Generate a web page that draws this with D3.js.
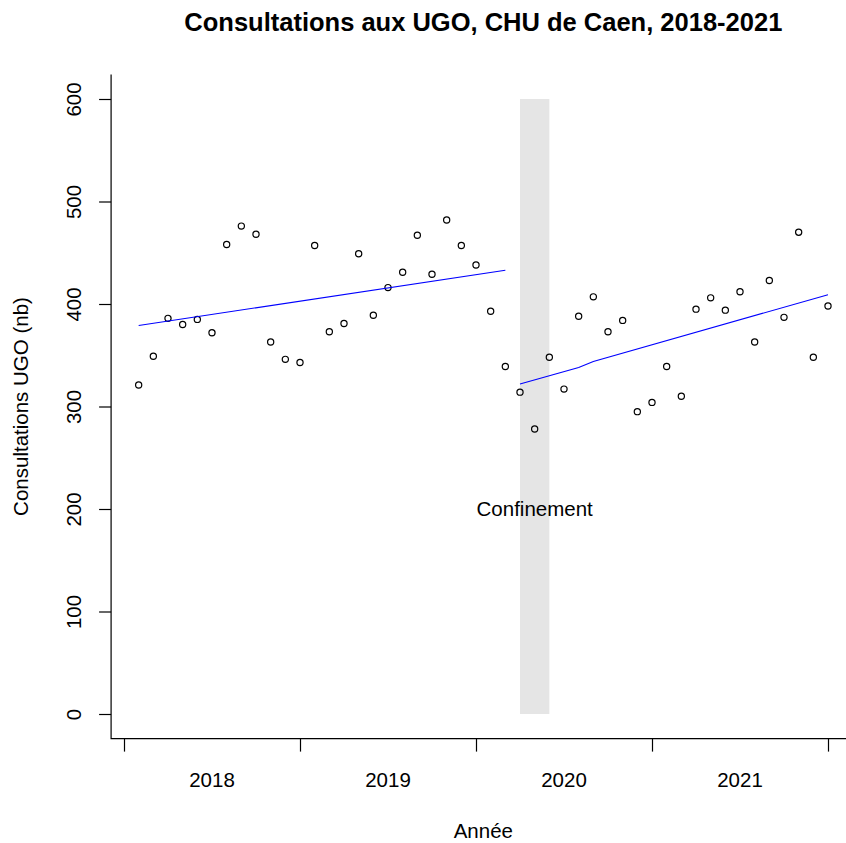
<!DOCTYPE html>
<html>
<head>
<meta charset="utf-8">
<script src="https://cdn.jsdelivr.net/npm/d3@7"></script>
<style>
  body { margin: 0; background: #fff; }
  svg { display: block; font-family: "Liberation Sans", Arial, sans-serif; }
</style>
</head>
<body>
<div id="chart"></div>
<script>
// Consultations aux UGO, CHU de Caen - monthly counts, Jan 2018 -> Dec 2021

// month index 1..48 (1 = jan 2018)
var months = d3.range(1, 49);
var consultations = [
  321, 349, 386, 380, 385, 372, 458, 476, 468, 363, 346, 343,
  457, 373, 381, 449, 389, 416, 431, 467, 429, 482, 457, 438,
  393, 339, 314, 278, 348, 317, 388, 407, 373, 384, 295, 304,
  339, 310, 395, 406, 394, 412, 363, 423, 387, 470, 348, 398
];

// fitted trend (blue lines)
var trendBefore = [ {month: 1, value: 379}, {month: 26, value: 433} ];
var trendAfter  = [ {month: 27, value: 322}, {month: 31, value: 338},
                    {month: 32, value: 344}, {month: 48, value: 409} ];

// lockdown band
var lockdown = {from: 27, to: 29, label: "Confinement", labelMonth: 28, labelValue: 200};

var yearTicks = [0, 12, 24, 36, 48];
var yearLabels = ["2018", "2019", "2020", "2021"];
var yearLabelPos = [6, 18, 30, 42];
var yTicks = [0, 100, 200, 300, 400, 500, 600];

var width = 846, height = 843;

// scales (R style 4% padding around the data range)
var x = d3.scaleLinear().domain([0, 48]).range([124, 828]);
var y = d3.scaleLinear().domain([0, 600]).range([714, 99]);
var xPad = (48 - 1) * 0.04, yPad = 600 * 0.04;
var plotLeft = x(1 - xPad), plotRight = x(48 + xPad);
var plotTop = y(600 + yPad), plotBottom = y(-yPad);

var svg = d3.select("#chart").append("svg")
    .attr("width", width)
    .attr("height", height);

// grey lockdown band
svg.append("rect")
    .attr("x", x(lockdown.from))
    .attr("y", y(600))
    .attr("width", x(lockdown.to) - x(lockdown.from))
    .attr("height", y(0) - y(600))
    .attr("fill", "#e5e5e5");

svg.append("text")
    .attr("x", x(lockdown.labelMonth))
    .attr("y", y(lockdown.labelValue) + 7)
    .attr("text-anchor", "middle")
    .attr("font-size", 20.5)
    .attr("fill", "#000")
    .text(lockdown.label);

// points
svg.append("g").selectAll("circle")
    .data(consultations)
    .join("circle")
    .attr("cx", function(d, i){ return x(months[i]); })
    .attr("cy", function(d){ return y(d); })
    .attr("r", 3.1)
    .attr("fill", "none")
    .attr("stroke", "#000")
    .attr("stroke-width", 1.2);

// trend lines
var line = d3.line()
    .x(function(d){ return x(d.month); })
    .y(function(d){ return y(d.value); });

[trendBefore, trendAfter].forEach(function(t){
  svg.append("path")
      .attr("d", line(t))
      .attr("fill", "none")
      .attr("stroke", "#0000ff")
      .attr("stroke-width", 1.1);
});

// L shaped box
svg.append("path")
    .attr("d", "M" + plotLeft + "," + plotTop + "V" + plotBottom + "H" + plotRight)
    .attr("fill", "none")
    .attr("stroke", "#000")
    .attr("stroke-width", 1.2);

// y axis
var yAxis = d3.axisLeft(y).tickValues(yTicks).tickSize(12).tickPadding(18).tickSizeOuter(0);
var gy = svg.append("g").attr("transform", "translate(" + plotLeft + ",0)").call(yAxis);
gy.select(".domain").remove();
gy.selectAll("line").attr("stroke", "#000").attr("stroke-width", 1.2);
gy.selectAll("text")
    .attr("font-size", 20.5)
    .attr("font-family", "Liberation Sans, Arial, sans-serif")
    .attr("fill", "#000")
    .attr("x", null).attr("dy", null)
    .attr("text-anchor", "middle")
    .attr("transform", "translate(-30,0) rotate(-90)");

// x axis: ticks at year bounds, labels mid-year
var xAxis = d3.axisBottom(x).tickValues(yearTicks).tickSize(13).tickFormat("").tickSizeOuter(0);
var gx = svg.append("g").attr("transform", "translate(0," + plotBottom + ")").call(xAxis);
gx.select(".domain").remove();
gx.selectAll("line").attr("stroke", "#000").attr("stroke-width", 1.2);

svg.append("g").selectAll("text")
    .data(yearLabels)
    .join("text")
    .attr("x", function(d, i){ return x(yearLabelPos[i]); })
    .attr("y", 787)
    .attr("text-anchor", "middle")
    .attr("font-size", 20.5)
    .attr("fill", "#000")
    .text(function(d){ return d; });

// titles
var midX = (plotLeft + plotRight) / 2;
svg.append("text")
    .attr("x", midX)
    .attr("y", 31)
    .attr("text-anchor", "middle")
    .attr("font-size", 25.5)
    .attr("font-weight", "bold")
    .attr("fill", "#000")
    .text("Consultations aux UGO, CHU de Caen, 2018-2021");

svg.append("text")
    .attr("x", midX)
    .attr("y", 838)
    .attr("text-anchor", "middle")
    .attr("font-size", 20.5)
    .attr("fill", "#000")
    .text("Année");

svg.append("text")
    .attr("transform", "translate(28," + ((plotTop + plotBottom) / 2) + ") rotate(-90)")
    .attr("text-anchor", "middle")
    .attr("font-size", 20.5)
    .attr("fill", "#000")
    .text("Consultations UGO (nb)");
</script>
</body>
</html>
